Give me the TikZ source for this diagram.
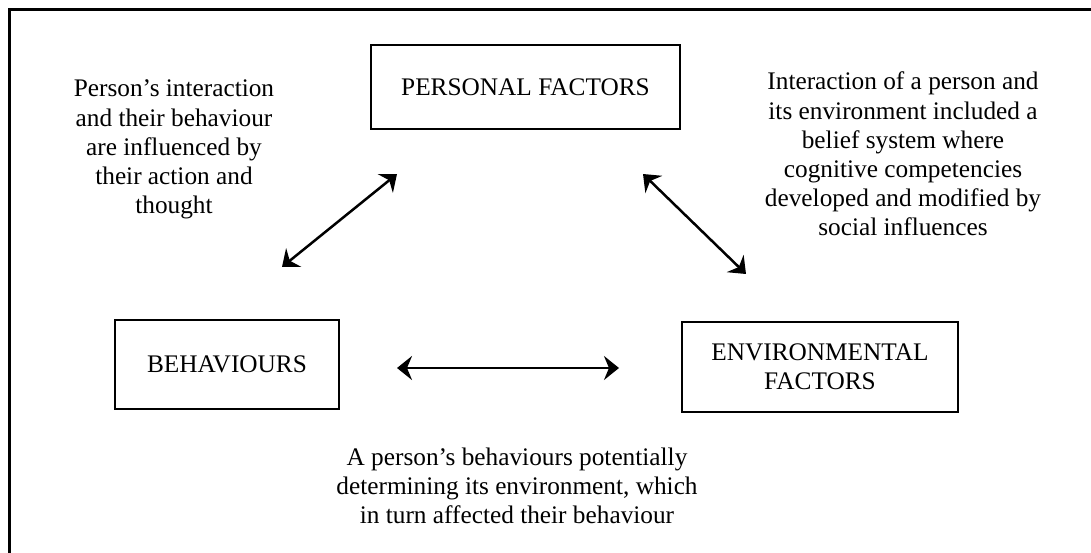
\documentclass[tikz,border=0pt]{standalone}
\usepackage{fontspec}
\setmainfont{Liberation Serif}
\usetikzlibrary{arrows.meta}
\begin{document}
\begin{tikzpicture}[x=1pt,y=-1pt,
  every node/.style={font=\fontsize{25.3}{29.2}\selectfont},
  factor/.style={draw, line width=2pt, inner sep=0pt, align=center},
  % notes are placed by the baseline of their last line
  note/.style={align=center, inner sep=0pt, anchor=base},
  link/.style={line width=2.5pt,
    {Stealth[length=15pt,width=24pt,inset=5pt]}-{Stealth[length=15pt,width=24pt,inset=5pt]}}]
\useasboundingbox (0,0) rectangle (1091,553);
% page frame (top and left edges)
\draw[line width=3pt] (1091,10) -- (9.5,10) -- (9.5,553);

% the three factors
\node[factor, minimum width=309pt, minimum height=84pt] (pers) at (525.5,87) {PERSONAL FACTORS};
\node[factor, minimum width=224pt, minimum height=89pt] (beh) at (227,364.5) {BEHAVIOURS};
\node[factor, minimum width=276pt, minimum height=90pt] (env) at (820,367) {ENVIRONMENTAL\\FACTORS};

% two-way influences
\coordinate (bp) at (282,267);
\coordinate (pb) at (397,174);
\coordinate (pe) at (643,174);
\coordinate (ep) at (746,274);
\coordinate (be) at (397,368);
\coordinate (eb) at (619,368);
\draw[link] (bp) -- (pb);
\draw[link] (pe) -- (ep);
\draw[link] (be) -- (eb);

% explanatory notes
\node[note] (ln) at (174,213.8) {Person’s interaction\\and their behaviour\\are influenced by\\their action and\\thought};
\node[note] (rn) at (903,236) {Interaction of a person and\\its environment included a\\belief system where\\cognitive competencies\\developed and modified by\\social influences};
\node[note] (bn) at (517,523.4) {A person’s behaviours potentially\\determining its environment, which\\in turn affected their behaviour};
\end{tikzpicture}
\end{document}
